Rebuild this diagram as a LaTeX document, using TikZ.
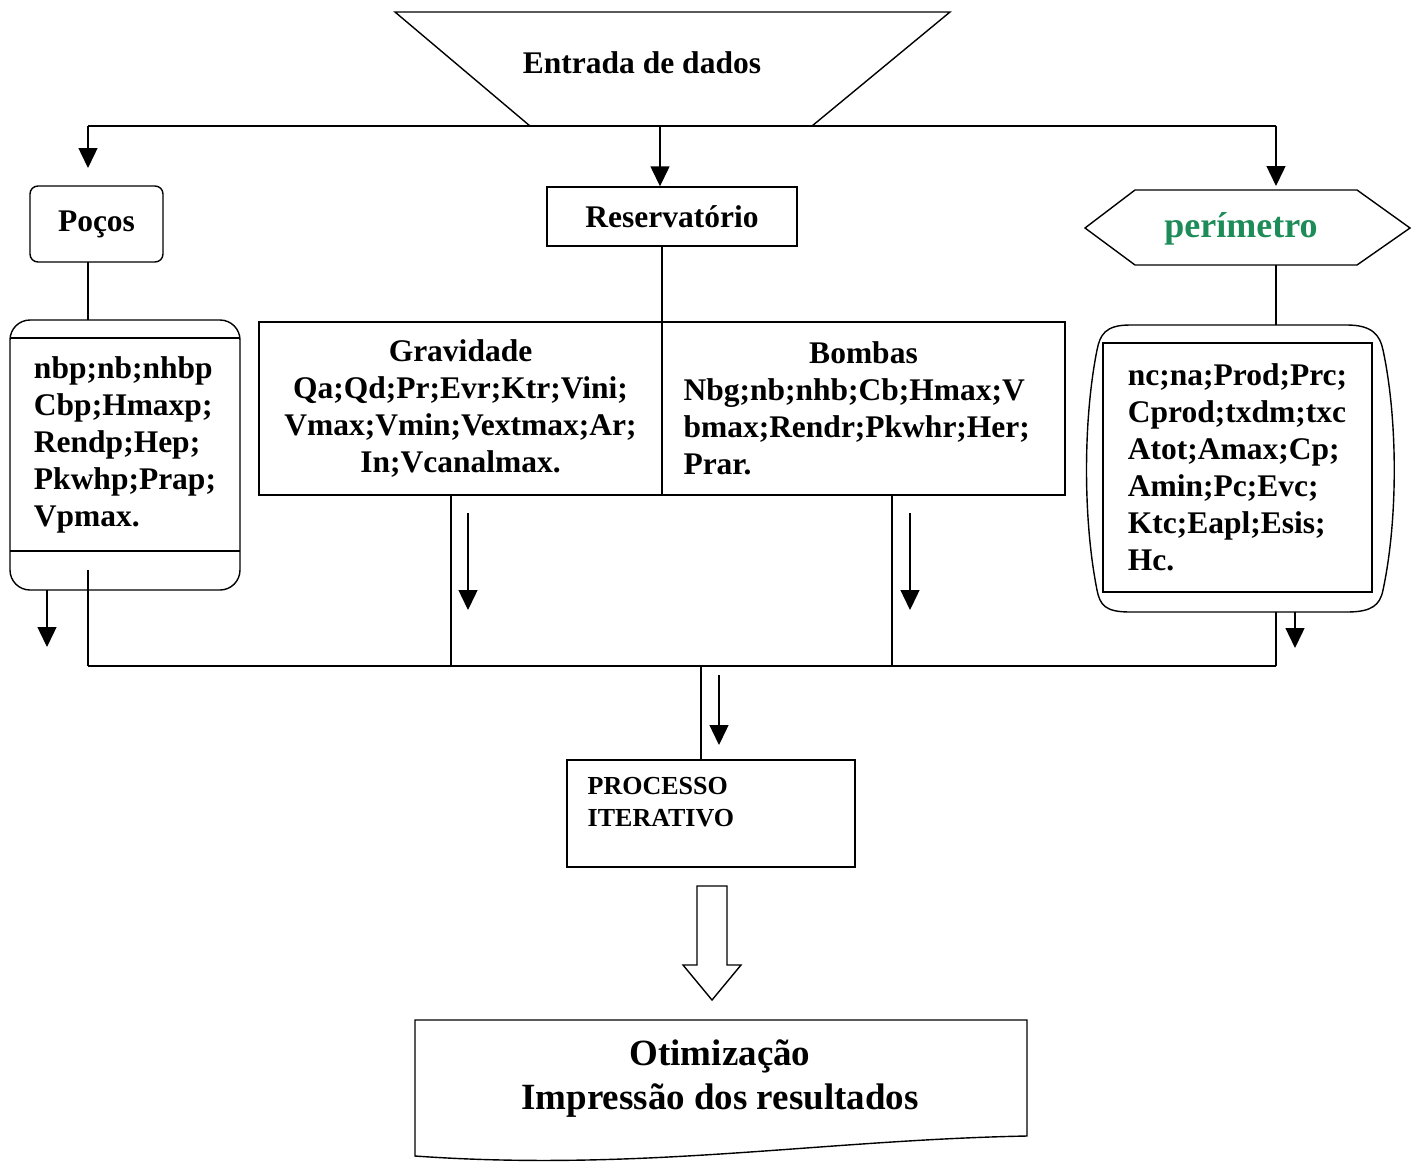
\documentclass[tikz,border=0pt]{standalone}
\usepackage{fontspec}
\setmainfont{Liberation Serif}
\usetikzlibrary{arrows.meta}
\definecolor{perigreen}{RGB}{30,140,88}

\begin{document}
\begin{tikzpicture}[
            x = 1pt,
            y = -1pt,
            line width = 1.4pt,
            txt/.style = {font = \fontsize{31.5}{37}\selectfont\bfseries, inner sep = 0pt},
            caixa/.style = {draw, rectangle, txt},
            seta/.style = {-{Triangle[width=19pt,length=20pt]}}
        ]
            \useasboundingbox (0,0) rectangle (1419,1162);

            \draw[-] (395,12) -- (950,12) -- (812,126) -- (530,126) -- cycle;
            \node[txt] (entrada) at (642,63) {Entrada de dados};

            \coordinate (b1) at (88,126);
            \coordinate (b2) at (660,126);
            \coordinate (b3) at (1276,126);
            \draw[-] (b1) -- (b3);

            \node[caixa, rounded corners = 8pt, minimum width = 133pt, minimum height = 76pt] (pocos) at (96.5,224) {Poços};
            \node[caixa, minimum width = 250pt, minimum height = 59pt] (reserv) at (672,216.5) {Reservatório};
            \draw[-] (1085,228) -- (1135,190) -- (1357,190) -- (1410,228) -- (1357,265) -- (1135,265) -- cycle;
            \node[txt, font = \fontsize{36}{40}\selectfont\bfseries, text = perigreen] (perim) at (1241,229) {perímetro};

            \coordinate (p1) at (88,168);
            \coordinate (p3) at (1276,186);
            \draw[seta] (b1) -- (p1);
            \draw[seta] (b2) -- (b2 |- reserv.north);
            \draw[seta] (b3) -- (p3);

            \draw[-, rounded corners = 20pt] (10,320) rectangle (240,590);
            \draw[-] (10,338) -- (240,338);
            \draw[-] (10,551) -- (240,551);
            \node[txt, align = left] (pocosdados) at (125,445) {nbp;nb;nhbp\\Cbp;Hmaxp;\\Rendp;Hep;\\Pkwhp;Prap;\\Vpmax.};

            \node[caixa, minimum width = 403pt, minimum height = 173pt, align = center] (grav) at (460.5,408.5) {Gravidade\\Qa;Qd;Pr;Evr;Ktr;Vini;\\Vmax;Vmin;Vextmax;Ar;\\In;Vcanalmax.};
            \node[caixa, minimum width = 403pt, minimum height = 173pt, text width = 360pt, align = left] (bombas) at (863.5,408.5) {\hfill Bombas\hfill\null\\Nbg;nb;nhb;Cb;Hmax;V\\bmax;Rendr;Pkwhr;Her;\\Prar.};

            \draw[-] (1130,325) -- (1347,325)
                .. controls (1372,325) and (1380,335) .. (1383,350)
                .. controls (1398,420) and (1398,520) .. (1383,590)
                .. controls (1380,605) and (1372,612) .. (1347,612)
                -- (1130,612)
                .. controls (1105,612) and (1100,605) .. (1097,590)
                .. controls (1083,520) and (1083,420) .. (1097,350)
                .. controls (1100,335) and (1105,325) .. (1130,325) -- cycle;
            \node[caixa, minimum width = 269pt, minimum height = 249pt, align = left] (perimdados) at (1237.5,467.5) {nc;na;Prod;Prc;\\Cprod;txdm;txc\\Atot;Amax;Cp;\\Amin;Pc;Evc;\\Ktc;Eapl;Esis;\\Hc.};

            \draw[-] (88,262) -- (88,320);
            \draw[-] (662,246) -- (662,322);
            \draw[-] (1276,265) -- (1276,325);

            \coordinate (c1) at (88,666);
            \coordinate (c2) at (451,666);
            \coordinate (c3) at (892,666);
            \coordinate (c4) at (1276,666);
            \coordinate (cm) at (701,666);
            \draw[-] (c1) -- (c4);
            \draw[-] (88,570) -- (c1);
            \draw[-] (c2 |- grav.south) -- (c2);
            \draw[-] (c3 |- bombas.south) -- (c3);
            \draw[-] (1276,612) -- (c4);

            \coordinate (s1) at (47,590);
            \coordinate (s2) at (47,647);
            \coordinate (g1) at (468,513);
            \coordinate (g2) at (468,610);
            \coordinate (h1) at (910,513);
            \coordinate (h2) at (910,610);
            \coordinate (r1) at (1295,612);
            \coordinate (r2) at (1295,648);
            \draw[seta] (s1) -- (s2);
            \draw[seta] (g1) -- (g2);
            \draw[seta] (h1) -- (h2);
            \draw[seta] (r1) -- (r2);

            \node[draw, rectangle, minimum width = 288pt, minimum height = 107pt] (proc) at (711,813.5) {};
            \node[txt, font = \fontsize{26}{32}\selectfont\bfseries, align = left, anchor = west] (proctxt) at (587,802) {PROCESSO\\ITERATIVO};
            \draw[-] (cm) -- (cm |- proc.north);
            \coordinate (m1) at (719,675);
            \coordinate (m2) at (719,745);
            \draw[seta] (m1) -- (m2);

            \draw[-] (697,886) -- (727,886) -- (727,965) -- (741,965) -- (712,1000) -- (683,965) -- (697,965) -- cycle;

            \draw[-] (415,1020) -- (1027,1020) -- (1027,1136)
                .. controls (820,1140) and (640,1172) .. (415,1156) -- cycle;
            \node[txt, font = \fontsize{37}{44}\selectfont\bfseries, align = center] (otim) at (720,1079) {Otimização\\Impressão dos resultados};
        \end{tikzpicture}
\end{document}
